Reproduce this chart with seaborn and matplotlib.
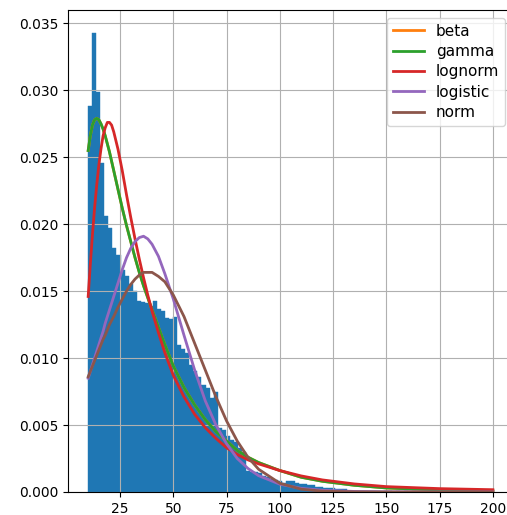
import numpy as np
import pandas as pd
import matplotlib
matplotlib.use("Agg")
import matplotlib.pyplot as plt
import seaborn as sns

# histogram (density per bin, 100 bins from 10 to 200)
hist_range = (10, 200)
hist_density = [
    0.0288, 0.0343, 0.0299, 0.0246, 0.0206, 0.0197, 0.0182, 0.0177, 0.0166, 0.0161,
    0.0155, 0.0150, 0.0143, 0.0142, 0.0141, 0.0139, 0.0143, 0.0137, 0.0135, 0.0130,
    0.0129, 0.0131, 0.0110, 0.0107, 0.0104, 0.0095, 0.0090, 0.0086, 0.0080, 0.0078,
    0.0070, 0.0075, 0.0048, 0.0046, 0.0042, 0.0039, 0.0037, 0.0033, 0.0030, 0.0016,
    0.0015, 0.0015, 0.0014, 0.0012, 0.0011, 0.0010, 0.0009, 0.0008, 0.0007, 0.0008,
    0.0008, 0.0007, 0.0006, 0.0006, 0.0005, 0.0005, 0.0004, 0.0004, 0.0003, 0.0003,
    0.0003, 0.0002, 0.0002, 0.0002, 0.0001, 0.0001, 0.0001, 0.0001, 0.0001, 0.0001,
    0.00005, 0.00005, 0.0, 0.00005, 0.00005, 0.0, 0.00005, 0.0, 0.00005, 0.0,
    0.00005, 0.0, 0.0, 0.00005, 0.0, 0.0, 0.00005, 0.0, 0.0, 0.0,
    0.00005, 0.0, 0.0, 0.0, 0.0, 0.00005, 0.0, 0.0, 0.0, 0.00005,
]

# fitted pdf curves, read at these x positions
x_pts = [10, 11, 12, 13, 14, 15, 16, 17, 18, 19, 20, 21, 22, 24, 26, 28, 30, 32,
         34, 36, 38, 40, 43, 46, 50, 55, 60, 65, 70, 75, 80, 85, 90, 100, 110, 120,
         135, 150, 175, 200]

gamma_pdf = [0.0255, 0.0266, 0.0274, 0.0278, 0.0279, 0.0278, 0.0275, 0.0271, 0.0266,
             0.0260, 0.0254, 0.0247, 0.0240, 0.0226, 0.0212, 0.0199, 0.0187, 0.0175,
             0.0164, 0.0154, 0.0145, 0.0136, 0.0123, 0.0110, 0.0094, 0.0078, 0.0065,
             0.0054, 0.0045, 0.0038, 0.0031, 0.0026, 0.0022, 0.0016, 0.0011, 0.0008,
             0.0005, 0.0003, 0.00015, 0.00008]
beta_pdf = gamma_pdf  # beta fit sits under the gamma curve
lognorm_pdf = [0.0146, 0.0170, 0.0192, 0.0212, 0.0229, 0.0244, 0.0256, 0.0266, 0.0272,
               0.0276, 0.0276, 0.0274, 0.0269, 0.0256, 0.0240, 0.0222, 0.0205, 0.0189,
               0.0174, 0.0160, 0.0147, 0.0135, 0.0119, 0.0104, 0.0087, 0.0071, 0.0058,
               0.0048, 0.0040, 0.0033, 0.0028, 0.0024, 0.0021, 0.0016, 0.0012, 0.0009,
               0.0006, 0.0004, 0.00025, 0.00017]
logistic_pdf = [0.0085, 0.0090, 0.0095, 0.0100, 0.0105, 0.0110, 0.0115, 0.0120, 0.0126,
                0.0131, 0.0136, 0.0141, 0.0146, 0.0156, 0.0166, 0.0175, 0.0182, 0.0187,
                0.0190, 0.0191, 0.0189, 0.0185, 0.0176, 0.0163, 0.0144, 0.0117, 0.0091,
                0.0068, 0.0050, 0.0036, 0.0025, 0.00176, 0.00122, 0.00058, 0.00027,
                0.00013, 0.00004, 0.00001, 0.0, 0.0]
norm_pdf = [0.0086, 0.0090, 0.0094, 0.0098, 0.0102, 0.0106, 0.0110, 0.0114, 0.0117,
            0.0121, 0.0125, 0.0128, 0.0131, 0.0138, 0.0144, 0.0150, 0.0155, 0.0159,
            0.0162, 0.0164, 0.0164, 0.0164, 0.0161, 0.0157, 0.0147, 0.0131, 0.0111,
            0.0091, 0.0071, 0.0053, 0.0038, 0.0026, 0.0017, 0.00065, 0.00021, 0.00006,
            0.00001, 0.0, 0.0, 0.0]

x_ticks = [25, 50, 75, 100, 125, 150, 175, 200]

curves = {"beta": beta_pdf, "gamma": gamma_pdf, "lognorm": lognorm_pdf,
          "logistic": logistic_pdf, "norm": norm_pdf}
colors = ["C1", "C2", "C3", "C4", "C5"]

n_bins = len(hist_density)
width = (hist_range[1] - hist_range[0]) / n_bins
centers = hist_range[0] + width * (np.arange(n_bins) + 0.5)
hist_df = pd.DataFrame({"x": centers, "w": hist_density})

fig = plt.figure(figsize=(5.07, 5.15), dpi=100)
ax = fig.add_axes([0.134, 0.0447, 0.878, 0.936])

sns.histplot(data=hist_df, x="x", weights="w", binwidth=width, binrange=hist_range,
             stat="count", color="#1f77b4", edgecolor="#1f77b4", alpha=1,
             linewidth=0.3, ax=ax)

for (name, vals), c in zip(curves.items(), colors):
    sns.lineplot(x=x_pts, y=vals, color=c, lw=2, label=name, ax=ax)

ax.set_xlim(0.5, 209.5)
ax.set_ylim(0, 0.036)
ax.set_xticks(x_ticks)
ax.set_yticks(np.arange(0, 0.0351, 0.005))
ax.yaxis.set_major_formatter(matplotlib.ticker.FormatStrFormatter("%.3f"))
ax.set_xlabel("")
ax.set_ylabel("")
ax.spines["right"].set_visible(False)
ax.set_axisbelow("line")
ax.grid(True)
ax.legend(loc="upper right", fontsize=11, labelspacing=0.35)

fig.savefig("out.png", dpi=100)
